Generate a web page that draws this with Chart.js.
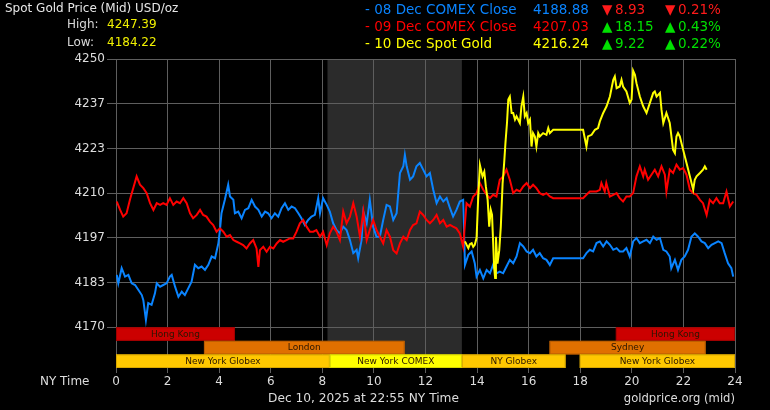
<!DOCTYPE html>
<html>
<head>
<meta charset="utf-8">
<script src="https://cdn.jsdelivr.net/npm/chart.js@4.4.1/dist/chart.umd.min.js"></script>
<style>
  html, body { margin: 0; padding: 0; background: #000; }
  #wrap { width: 770px; height: 410px; position: relative; background: #000; }
  canvas { display: block; }
</style>
</head>
<body>
<div id="wrap"><canvas id="c" width="770" height="410"></canvas></div>
<script>
// ---------------- DATA ----------------
const blueHours = [0.03,0.09,0.22,0.35,0.48,0.61,0.74,0.87,1.00,1.06,1.16,1.25,1.38,1.51,1.58,1.71,1.83,1.96,2.09,2.16,2.29,2.42,2.55,2.67,2.80,2.93,3.06,3.19,3.32,3.45,3.58,3.71,3.84,3.97,4.03,4.09,4.22,4.35,4.42,4.55,4.61,4.74,4.87,5.00,5.13,5.26,5.39,5.52,5.65,5.78,5.90,6.03,6.16,6.29,6.42,6.55,6.68,6.81,6.94,7.07,7.19,7.32,7.45,7.58,7.71,7.84,7.91,8.03,8.17,8.29,8.42,8.55,8.68,8.81,8.94,9.07,9.20,9.33,9.39,9.52,9.59,9.72,9.84,9.97,10.10,10.23,10.36,10.49,10.62,10.75,10.88,11.01,11.14,11.20,11.27,11.40,11.52,11.65,11.78,11.91,12.04,12.17,12.30,12.43,12.56,12.69,12.82,12.95,13.07,13.20,13.33,13.46,13.53,13.66,13.79,13.91,13.98,14.11,14.24,14.37,14.50,14.62,14.75,14.88,15.01,15.14,15.27,15.40,15.53,15.66,15.79,15.92,16.05,16.17,16.30,16.43,16.56,16.69,16.82,16.95,18.11,18.24,18.37,18.50,18.63,18.76,18.89,19.02,19.15,19.28,19.41,19.53,19.66,19.79,19.92,20.05,20.18,20.31,20.44,20.57,20.70,20.83,20.96,21.09,21.22,21.34,21.47,21.53,21.67,21.79,21.92,22.05,22.18,22.31,22.44,22.57,22.70,22.83,22.96,23.09,23.22,23.35,23.48,23.60,23.73,23.86,23.93];
const blueValues = [4185.6,4183.1,4187.6,4185.1,4185.6,4183.1,4182.6,4181.1,4179.6,4178.1,4172.2,4177.2,4176.7,4180.1,4183.1,4182.1,4182.6,4183.1,4185.1,4185.6,4182.1,4179.1,4180.6,4179.6,4181.6,4183.6,4188.6,4187.6,4188.1,4187.1,4188.6,4191.1,4190.6,4195.1,4199.0,4204.0,4208.0,4212.5,4209.0,4208.0,4204.0,4204.5,4202.5,4205.0,4205.5,4208.0,4206.0,4205.0,4203.0,4204.5,4204.0,4202.5,4204.0,4203.0,4205.5,4207.0,4205.0,4206.0,4205.5,4204.0,4202.5,4200.5,4202.0,4203.0,4203.5,4208.5,4204.0,4208.5,4206.5,4204.5,4201.0,4199.0,4198.0,4200.0,4199.0,4196.0,4192.1,4193.1,4190.6,4196.0,4204.5,4201.0,4208.0,4200.0,4197.0,4197.0,4202.0,4206.5,4206.0,4202.0,4204.0,4216.0,4218.0,4221.4,4218.0,4214.0,4215.0,4218.0,4219.0,4217.0,4215.0,4216.0,4211.0,4207.0,4209.0,4207.5,4208.5,4205.5,4203.0,4205.0,4207.5,4208.0,4188.6,4191.6,4192.6,4189.1,4185.1,4187.1,4184.6,4187.1,4186.1,4188.6,4186.1,4186.6,4186.1,4188.1,4190.1,4189.1,4191.1,4195.1,4194.1,4192.6,4192.1,4193.1,4191.1,4192.1,4190.6,4190.1,4188.6,4190.6,4190.6,4192.1,4193.1,4192.6,4195.1,4195.6,4194.1,4195.6,4194.6,4193.1,4193.6,4192.6,4192.6,4193.6,4191.1,4195.6,4196.6,4195.1,4195.6,4196.1,4195.1,4197.0,4196.1,4196.6,4193.1,4192.6,4191.1,4187.6,4190.1,4187.1,4190.1,4191.1,4193.1,4197.0,4198.0,4197.0,4195.6,4195.1,4193.6,4194.6,4195.1,4195.6,4195.1,4192.1,4189.1,4187.6,4185.1];

const redHours = [0.03,0.16,0.28,0.41,0.54,0.67,0.80,0.93,1.06,1.19,1.32,1.45,1.58,1.71,1.83,1.96,2.09,2.22,2.35,2.48,2.61,2.74,2.87,2.99,3.13,3.26,3.38,3.51,3.64,3.77,3.90,4.03,4.16,4.29,4.42,4.55,4.68,4.81,4.93,5.06,5.19,5.32,5.45,5.52,5.58,5.71,5.84,5.97,6.10,6.23,6.36,6.48,6.61,6.74,6.87,7.00,7.13,7.26,7.39,7.52,7.65,7.77,7.91,8.03,8.17,8.29,8.42,8.55,8.68,8.81,8.94,9.07,9.20,9.33,9.46,9.59,9.72,9.84,9.97,10.10,10.23,10.36,10.49,10.62,10.75,10.88,11.01,11.14,11.27,11.40,11.52,11.65,11.78,11.91,12.04,12.17,12.30,12.43,12.56,12.69,12.82,12.95,13.07,13.20,13.33,13.46,13.59,13.72,13.85,13.98,14.11,14.24,14.37,14.50,14.62,14.75,14.88,15.01,15.14,15.27,15.40,15.53,15.66,15.79,15.92,16.05,16.17,16.30,16.43,16.56,16.69,16.82,16.95,18.11,18.24,18.37,18.50,18.63,18.76,18.82,18.95,19.01,19.15,19.28,19.41,19.53,19.66,19.79,19.92,20.05,20.18,20.31,20.44,20.50,20.63,20.76,20.89,21.02,21.15,21.28,21.34,21.47,21.60,21.73,21.86,21.99,22.12,22.25,22.38,22.51,22.64,22.76,22.90,23.02,23.15,23.28,23.41,23.54,23.67,23.80,23.93];
const redValues = [4207.5,4205.0,4203.0,4204.0,4208.0,4211.5,4215.0,4212.5,4211.5,4210.0,4207.0,4205.0,4207.0,4206.5,4207.0,4206.5,4208.5,4206.5,4207.5,4207.0,4208.5,4207.0,4204.0,4202.5,4203.5,4205.0,4203.5,4203.0,4201.5,4200.5,4198.5,4199.5,4198.5,4197.0,4197.5,4196.0,4195.5,4195.0,4194.5,4193.5,4195.0,4196.0,4193.5,4188.0,4193.0,4194.0,4192.5,4194.0,4193.5,4195.0,4196.0,4195.5,4196.0,4196.5,4196.5,4198.5,4201.0,4202.0,4200.0,4198.5,4198.5,4199.0,4197.0,4198.5,4194.5,4198.0,4200.0,4198.5,4196.0,4204.5,4201.0,4203.0,4207.0,4203.0,4197.0,4204.5,4196.0,4199.0,4202.0,4199.0,4197.0,4195.0,4199.0,4197.0,4193.0,4192.0,4195.0,4197.0,4196.0,4199.0,4200.5,4201.0,4204.5,4203.5,4202.0,4201.0,4202.0,4203.5,4201.0,4202.0,4200.0,4200.5,4200.0,4199.5,4198.0,4194.0,4207.0,4206.0,4209.0,4210.0,4213.0,4211.0,4209.5,4208.5,4209.5,4209.0,4214.0,4215.0,4217.0,4214.0,4210.0,4211.0,4210.5,4212.0,4213.0,4211.5,4212.5,4211.5,4210.0,4209.5,4210.0,4209.0,4208.5,4208.5,4209.5,4210.5,4210.5,4210.5,4211.0,4213.0,4210.5,4213.0,4209.0,4209.5,4210.0,4208.5,4207.5,4209.0,4209.0,4210.0,4215.0,4218.0,4215.0,4217.0,4214.0,4215.5,4217.0,4215.0,4218.0,4215.5,4210.5,4217.0,4216.0,4218.5,4217.0,4217.5,4215.5,4211.0,4210.0,4209.5,4208.0,4207.0,4203.5,4208.0,4207.0,4208.5,4207.0,4207.0,4210.5,4206.0,4207.5];

const yellowHours = [13.53,13.60,13.66,13.72,13.79,13.85,13.91,13.98,14.04,14.11,14.21,14.28,14.34,14.41,14.47,14.53,14.58,14.66,14.70,14.73,14.79,14.86,14.92,14.99,15.05,15.10,15.16,15.21,15.27,15.34,15.40,15.47,15.53,15.66,15.72,15.79,15.85,15.92,15.98,16.05,16.11,16.17,16.24,16.30,16.37,16.43,16.56,16.69,16.76,16.82,16.95,18.11,18.24,18.30,18.44,18.57,18.69,18.76,18.89,19.02,19.15,19.28,19.34,19.41,19.53,19.60,19.66,19.79,19.92,19.99,20.05,20.12,20.18,20.31,20.44,20.57,20.70,20.83,20.89,20.96,21.09,21.15,21.22,21.34,21.47,21.60,21.67,21.73,21.79,21.86,21.99,22.12,22.25,22.38,22.44,22.51,22.64,22.76,22.83,22.90];
const yellowValues = [4195.6,4194.5,4193.6,4194.8,4195.1,4194.0,4194.6,4196.6,4208.0,4218.4,4215.0,4216.4,4212.0,4208.0,4200.0,4205.0,4203.5,4188.0,4184.7,4197.0,4189.0,4193.0,4200.0,4213.0,4219.0,4225.0,4231.0,4237.9,4238.8,4233.9,4233.9,4231.9,4232.9,4230.9,4235.9,4238.8,4232.9,4233.9,4230.9,4231.9,4223.9,4227.9,4226.9,4223.9,4227.9,4226.9,4227.9,4227.4,4229.4,4227.9,4228.9,4228.9,4223.9,4226.9,4227.4,4228.9,4229.4,4231.4,4233.9,4235.9,4238.8,4243.8,4244.8,4241.3,4241.8,4243.8,4241.8,4240.3,4236.9,4237.9,4246.5,4245.3,4242.8,4238.8,4235.9,4233.9,4236.9,4239.9,4240.3,4238.8,4239.9,4234.9,4230.9,4233.9,4230.9,4222.9,4221.9,4226.9,4227.9,4226.9,4222.9,4219.0,4215.0,4211.0,4214.0,4215.0,4216.0,4217.0,4218.0,4217.0];

const yTickValues = [4170, 4183.333, 4196.667, 4210, 4223.333, 4236.667, 4250];
const yTickLabels = ['4170', '4183', '4197', '4210', '4223', '4237', '4250'];
const xTickValues = [0, 2, 4, 6, 8, 10, 12, 14, 16, 18, 20, 22, 24];

const legendNames  = ['08 Dec COMEX Close', '09 Dec COMEX Close', '10 Dec Spot Gold'];
const legendPrices = ['4188.88', '4207.03', '4216.24'];
const legendChanges = ['8.93', '18.15', '9.22'];
const legendPcts    = ['0.21%', '0.43%', '0.22%'];
const legendUp      = [false, true, true];

const highValue = '4247.39';
const lowValue = '4184.22';

const sessionNames = ['Hong Kong', 'Hong Kong', 'London', 'Sydney', 'New York Globex', 'New York COMEX', 'NY Globex', 'New York Globex'];
const sessionStart = [0, 19.38, 3.41, 16.81, 0, 8.29, 13.41, 17.98];
const sessionEnd   = [4.61, 24, 11.19, 22.86, 8.29, 13.41, 17.43, 24];
const sessionRow   = [0, 0, 1, 1, 2, 2, 2, 2];
const comexShade = [8.2, 13.41];

// ---------------- STYLE ----------------
const FONT = "'DejaVu Sans', Verdana, sans-serif";
const sessionFill = {'Hong Kong':'#cc0000','London':'#e07000','Sydney':'#e07000','New York Globex':'#ffc800','NY Globex':'#ffc800','New York COMEX':'#ffff00'};
const sessionEdge = {'Hong Kong':'#a00000','London':'#b85c00','Sydney':'#b85c00','New York Globex':'#d9a800','NY Globex':'#d9a800','New York COMEX':'#d8d800'};
const seriesColors = ['#0a84ff', '#ff0000', '#ffff00'];

function pts(h, v) { return h.map((t, i) => ({x: t, y: v[i]})); }

const overlay = {
  id: 'overlay',
  beforeDraw(chart) {
    const {ctx, chartArea: a, scales: {x}} = chart;
    const x0 = x.getPixelForValue(comexShade[0]);
    const x1 = x.getPixelForValue(comexShade[1]);
    ctx.save();
    ctx.fillStyle = '#2b2b2b';
    ctx.fillRect(x0, a.top, x1 - x0, a.bottom - a.top);
    ctx.restore();
  },
  afterDatasetsDraw(chart) {
    const {ctx, chartArea: a, scales: {x, y}} = chart;
    const top = y.getPixelForValue(4170);
    const rowH = (a.bottom - top) / 3;
    ctx.save();
    ctx.font = '9px ' + FONT;
    ctx.textAlign = 'center';
    ctx.textBaseline = 'middle';
    sessionNames.forEach((n, i) => {
      const x0 = x.getPixelForValue(sessionStart[i]);
      const x1 = x.getPixelForValue(sessionEnd[i]);
      const y0 = top + sessionRow[i] * rowH;
      ctx.fillStyle = sessionFill[n];
      ctx.fillRect(x0, y0, x1 - x0, rowH);
      ctx.strokeStyle = sessionEdge[n];
      ctx.lineWidth = 1;
      ctx.strokeRect(x0 + 0.5, y0 + 0.5, x1 - x0 - 1, rowH - 1);
      ctx.fillStyle = '#2a1600';
      ctx.fillText(n, (x0 + x1) / 2, y0 + rowH / 2 + 0.5);
    });
    ctx.restore();
  },
  afterDraw(chart) {
    const ctx = chart.ctx;
    ctx.save();
    ctx.textBaseline = 'middle';
    ctx.textAlign = 'left';
    // header left
    ctx.font = '12px ' + FONT;
    ctx.fillStyle = '#e6e6e6';
    ctx.fillText('Spot Gold Price (Mid) USD/oz', 5, 9);
    ctx.fillStyle = '#d8d8d8';
    ctx.fillText('High:', 67, 25);
    ctx.fillText('Low:', 67, 43);
    ctx.fillStyle = '#f0f000';
    ctx.fillText(highValue, 107, 25);
    ctx.fillText(lowValue, 107, 43);
    // legend right
    ctx.font = '13.5px ' + FONT;
    const rowsY = [10, 27, 44];
    legendNames.forEach((n, i) => {
      const yy = rowsY[i];
      ctx.fillStyle = seriesColors[i];
      ctx.fillText('- ' + n, 365, yy);
      ctx.fillText(legendPrices[i], 533, yy);
      const c = legendUp[i] ? '#00e000' : '#ff1a1a';
      ctx.fillStyle = c;
      ctx.fillText(legendUp[i] ? '\u25B2' : '\u25BC', 602, yy);
      ctx.fillText(legendChanges[i], 615, yy);
      ctx.fillText(legendUp[i] ? '\u25B2' : '\u25BC', 665, yy);
      ctx.fillText(legendPcts[i], 678, yy);
    });
    // footer
    ctx.font = '12px ' + FONT;
    ctx.fillStyle = '#dddddd';
    ctx.fillText('NY Time', 40, 382);
    ctx.font = '12.2px ' + FONT;
    ctx.fillText('Dec 10, 2025 at 22:55 NY Time', 268, 399);
    ctx.textAlign = 'right';
    ctx.font = '11.6px ' + FONT;
    ctx.fillText('goldprice.org (mid)', 735, 399);
    ctx.restore();
  }
};

const mkDs = (label, h, v, color, order) => ({
  label, data: pts(h, v), borderColor: color, backgroundColor: color,
  borderWidth: 2, pointRadius: 0, tension: 0, order, fill: false
});

new Chart(document.getElementById('c'), {
  type: 'line',
  data: {
    datasets: [
      mkDs(legendNames[2], yellowHours, yellowValues, seriesColors[2], 0),
      mkDs(legendNames[1], redHours, redValues, seriesColors[1], 1),
      mkDs(legendNames[0], blueHours, blueValues, seriesColors[0], 2)
    ]
  },
  options: {
    responsive: false,
    devicePixelRatio: 1,
    animation: false,
    events: [],
    layout: { padding: { top: 59, right: 35, bottom: 0, left: 0 } },
    plugins: { legend: { display: false }, tooltip: { enabled: false }, title: { display: false } },
    scales: {
      x: {
        type: 'linear', min: 0, max: 24,
        afterBuildTicks: (s) => { s.ticks = xTickValues.map(v => ({value: v})); },
        afterFit: (s) => { s.height = 42; },
        ticks: { color: '#dddddd', font: { family: FONT, size: 12 }, padding: 2, maxRotation: 0, autoSkip: false },
        grid: { color: '#5e5e5e', lineWidth: 1, tickLength: 5, drawTicks: true },
        border: { display: false }
      },
      y: {
        type: 'linear', min: 4157.85, max: 4250,
        afterBuildTicks: (s) => { s.ticks = yTickValues.map(v => ({value: v})); },
        afterFit: (s) => { s.width = 116; },
        ticks: {
          color: '#dddddd', font: { family: FONT, size: 12 }, padding: 2, autoSkip: false,
          callback: (v) => { const i = yTickValues.indexOf(v); return i >= 0 ? yTickLabels[i] : ''; }
        },
        grid: { color: '#5e5e5e', lineWidth: 1, tickLength: 9, drawTicks: true },
        border: { display: false }
      }
    }
  },
  plugins: [overlay]
});
</script>
</body>
</html>
